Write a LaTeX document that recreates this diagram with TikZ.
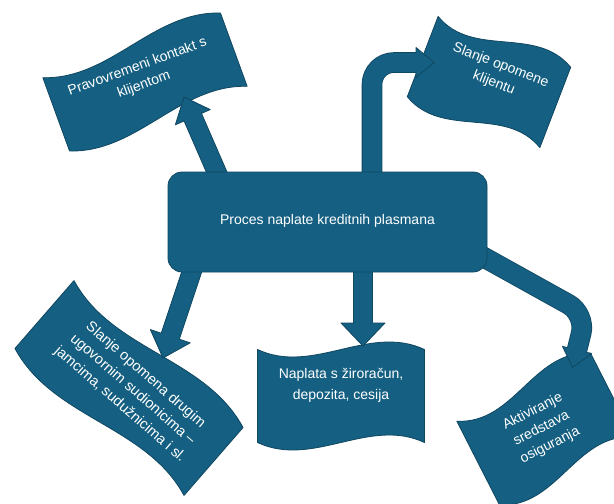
\documentclass[tikz,border=0pt]{standalone}
\usepackage{fontspec}
\setmainfont{Liberation Sans}
\usetikzlibrary{calc,backgrounds}
\definecolor{tealfill}{HTML}{156082}
\definecolor{tealline}{HTML}{0F4761}
\tikzset{
  shapefill/.style={fill=tealfill, draw=tealline, line width=0.8pt, line join=round},
  flagtext/.style={text=white, align=center, font=\fontsize{14}{19}\selectfont, transform shape, inner sep=0pt},
  mainbox/.style={shapefill, rounded corners=14pt, minimum width=319pt, minimum height=100pt, text=white, font=\fontsize{14}{17}\selectfont},
  shaftout/.style={draw=tealline, line width=20.6pt, rounded corners=#1},
  shaftin/.style={draw=tealfill, line width=19pt, rounded corners=#1},
}
\newcommand{\flagshape}[3]{%
  \path[shapefill] (-#1/2,-#2/2) .. controls (-#1/6,-#2/2+#3) and (#1/6,-#2/2-#3) .. (#1/2,-#2/2)
    -- (#1/2,#2/2) .. controls (#1/6,#2/2-#3) and (-#1/6,#2/2+#3) .. (-#1/2,#2/2) -- cycle;}
\newcommand{\blockarrow}[5]{%
  \coordinate (hb) at ($(#2)!#5pt!(#1)$);
  \path[shapefill] ($(#1)!#3pt!90:(#2)$) -- ($(hb)!#3pt!90:(#2)$) -- ($(hb)!#4pt!90:(#2)$) -- (#2)
    -- ($(hb)!#4pt!-90:(#2)$) -- ($(hb)!#3pt!-90:(#2)$) -- ($(#1)!#3pt!-90:(#2)$) -- cycle;}
\newcommand{\arrowhead}[3]{%
  \path[shapefill] ($(#1)!#3pt!90:(#2)$) -- (#2) -- ($(#1)!#3pt!-90:(#2)$) -- cycle;}
\begin{document}
\begin{tikzpicture}[x=1pt,y=-1pt]
\useasboundingbox (0,0) rectangle (614,504);
\node[mainbox] (box) at (327.5,222) {\raisebox{5pt}{Proces naplate kreditnih plasmana}};
\begin{scope}[on background layer]
  \fill[white] (0,0) rectangle (614,504);
  % flag 1
  \begin{scope}[shift={(145,82)}, rotate=20]
    \flagshape{189}{78}{25}
    \node[flagtext] (f1) at (-2,-7) {Pravovremeni kontakt s\\klijentom};
  \end{scope}
  % flag 2
  \begin{scope}[shift={(489,82)}, rotate=-21]
    \flagshape{142}{86}{27}
    \node[flagtext] (f2) at (5,-10) {Slanje opomene\\klijentu};
  \end{scope}
  % flag 3
  \begin{scope}[shift={(129,388)}, rotate=-41]
    \flagshape{224}{90}{28}
    \node[flagtext, font=\fontsize{14.5}{19.5}\selectfont] (f3) at (4,-1) {Slanje opomena drugim\\ugovornim sudionicima –\\jamcima, sudužnicima i sl.};
  \end{scope}
  % flag 4
  \begin{scope}[shift={(341,396)}]
    \flagshape{167}{93}{26}
    \node[flagtext, font=\fontsize{14}{21}\selectfont] (f4) at (0,-11) {Naplata s žiroračun,\\depozita, cesija};
  \end{scope}
  % flag 5
  \begin{scope}
    \clip (0,0) rectangle (614,504);
    \begin{scope}[shift={(545,429)}, rotate=27]
      \flagshape{150}{94}{29}
      \node[flagtext] (f5) at (-3,-2) {Aktiviranje\\sredstava\\osiguranja};
    \end{scope}
  \end{scope}
  % arrow 1
  \coordinate (a1s) at (221,182);
  \coordinate (t1) at (184,97);
  \blockarrow{a1s}{t1}{9.5}{19}{22}
  % arrow 3
  \coordinate (a3s) at (195,262);
  \coordinate (t3) at (163,358);
  \blockarrow{a3s}{t3}{9.5}{21}{23}
  % arrow 4
  \coordinate (a4s) at (363,262);
  \coordinate (t4) at (363,346);
  \blockarrow{a4s}{t4}{9.5}{22}{23}
  % arrow 2 (bent)
  \coordinate (a2s) at (372,182);
  \coordinate (a2c) at (372,62.5);
  \coordinate (a2e) at (418,62.5);
  \coordinate (a2b) at (416,62.5);
  \coordinate (t2) at (434,62.5);
  \draw[shaftout=22pt] (a2s) -- (a2c) -- (a2e);
  \arrowhead{a2b}{t2}{15}
  \draw[shaftin=22pt] (a2s) -- (a2c) -- (a2e);
  % arrow 5 (bent)
  \coordinate (a5s) at (478,254);
  \coordinate (a5c) at (586,314);
  \coordinate (a5b) at (577,350);
  \coordinate (a5e) at ($(a5b)!2pt!-180:(a5c)$);
  \coordinate (t5) at ($(a5b)!18pt!-180:(a5c)$);
  \draw[shaftout=20pt] (a5s) -- (a5c) -- (a5e);
  \arrowhead{a5b}{t5}{15}
  \draw[shaftin=20pt] (a5s) -- (a5c) -- (a5e);
\end{scope}
\end{tikzpicture}
\end{document}
